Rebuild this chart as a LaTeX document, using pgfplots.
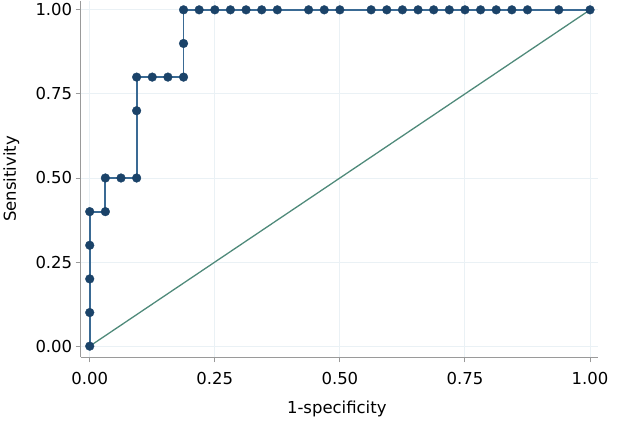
\documentclass[border=0pt]{standalone}
\usepackage{pgfplots}
\pgfplotsset{compat=1.18}
\usepackage{fontspec}
\setmainfont{DejaVu Sans}
\definecolor{curveline}{HTML}{3A6A94}
\definecolor{curvemark}{HTML}{1B4369}
\definecolor{diag}{HTML}{4F8A7A}
\definecolor{gridc}{HTML}{EAF1F5}
\definecolor{axc}{HTML}{9A9A9A}
\begin{document}
\begin{tikzpicture}
\begin{axis}[
  scale only axis,
  width=518pt, height=357pt,
  xmin=-0.018, xmax=1.016,
  ymin=-0.033, ymax=1.027,
  axis x line*=bottom, axis y line*=left,
  axis line style={axc, line width=1.5pt, -},
  tick align=outside, major tick length=5pt,
  tick style={axc, line width=1pt},
  xtick={0,0.25,0.5,0.75,1}, ytick={0,0.25,0.5,0.75,1},
  xticklabels={0.00,0.25,0.50,0.75,1.00},
  yticklabels={0.00,0.25,0.50,0.75,1.00},
  grid=major, major grid style={gridc, line width=1pt},
  tick label style={font=\fontsize{16.5}{20}\selectfont},
  label style={font=\fontsize{16.5}{20}\selectfont},
  xlabel={1-specificity}, ylabel={Sensitivity},
  xlabel style={at={(axis description cs:0.495,0)}, anchor=north, yshift=-40pt},
  ylabel style={at={(axis description cs:0,0.5)}, anchor=south, yshift=58pt},
  xticklabel style={yshift=-6pt},
  clip=false,
]
\addplot[diag, line width=1.3pt] coordinates {(0,0) (1,1)};
\addplot[curveline, line width=1.8pt, mark=*, mark size=4.4pt,
  mark options={solid, fill=curvemark, draw=curvemark, line width=0.3pt}] table {
x y
0 0
0 0.1
0 0.2
0 0.3
0 0.4
0.03125 0.4
0.03125 0.5
0.0625 0.5
0.09375 0.5
0.09375 0.7
0.09375 0.8
0.125 0.8
0.15625 0.8
0.1875 0.8
0.1875 0.9
0.1875 1
0.21875 1
0.25 1
0.28125 1
0.3125 1
0.34375 1
0.375 1
0.4375 1
0.46875 1
0.5 1
0.5625 1
0.59375 1
0.625 1
0.65625 1
0.6875 1
0.71875 1
0.75 1
0.78125 1
0.8125 1
0.84375 1
0.875 1
0.9375 1
1 1
};
\end{axis}
\path (current axis.south west) ++(-80pt,-68pt) rectangle ++(622pt,425pt);
\end{tikzpicture}
\end{document}
